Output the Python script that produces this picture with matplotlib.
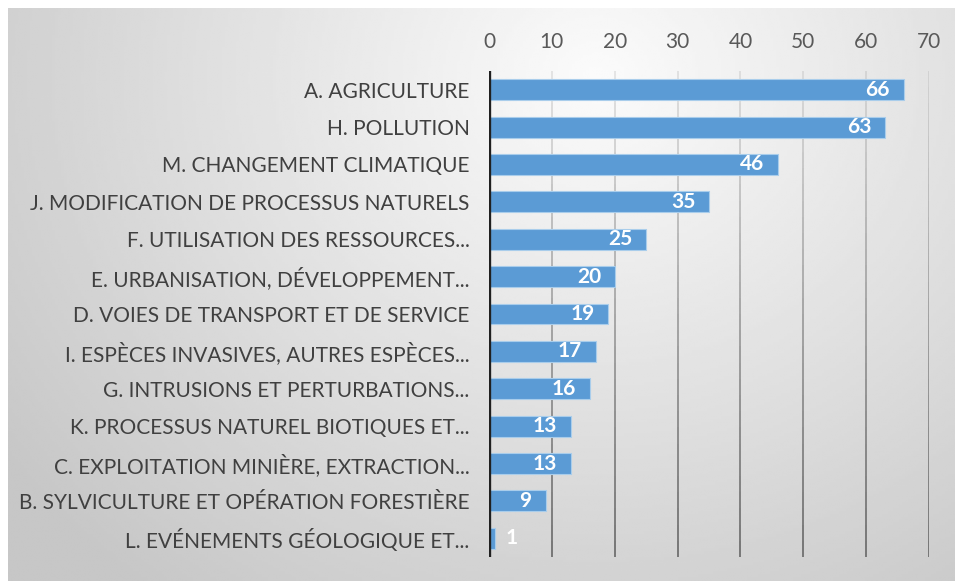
import numpy as np
import matplotlib
matplotlib.use("Agg")
import matplotlib.pyplot as plt

# data
categories = [
    "A. AGRICULTURE",
    "H. POLLUTION",
    "M. CHANGEMENT CLIMATIQUE",
    "J. MODIFICATION DE PROCESSUS NATURELS",
    "F. UTILISATION DES RESSOURCES...",
    "E. URBANISATION, DÉVELOPPEMENT...",
    "D. VOIES DE TRANSPORT ET DE SERVICE",
    "I. ESPÈCES INVASIVES, AUTRES ESPÈCES...",
    "G. INTRUSIONS ET PERTURBATIONS...",
    "K. PROCESSUS NATUREL BIOTIQUES ET...",
    "C. EXPLOITATION MINIÈRE, EXTRACTION...",
    "B. SYLVICULTURE ET OPÉRATION FORESTIÈRE",
    "L. EVÉNEMENTS GÉOLOGIQUE ET...",
]
values = [66, 63, 46, 35, 25, 20, 19, 17, 16, 13, 13, 9, 1]
xticks = [0, 10, 20, 30, 40, 50, 60, 70]

plt.rcParams['font.family'] = ['Lato', 'DejaVu Sans']

W, H = 957, 583
fig = plt.figure(figsize=(W / 100, H / 100), dpi=100)
fig.patch.set_facecolor('white')

# background gradient panel
bg = fig.add_axes([8 / W, 2 / H, 947 / W, 573 / H])
bg.set_axis_off()
yy, xx = np.mgrid[0:200, 0:330]
xx = xx / 330.0
yy = yy / 200.0
d = np.sqrt(((xx - 0.62) / 0.75) ** 2 + ((yy - 0.12) / 1.1) ** 2)
shade = np.clip(0.985 - 0.2 * d, 0.78, 0.985)
bg.imshow(shade, cmap='gray', vmin=0, vmax=1, aspect='auto',
          extent=[0, 1, 1, 0], interpolation='bilinear')
bg.set_xlim(0, 1)
bg.set_ylim(1, 0)

ax = fig.add_axes([489 / W, 1 - 557 / H, 440 / W, (557 - 71) / H])
ax.patch.set_alpha(0)

pos = np.arange(len(categories))

# gridlines fading toward the top
for t in xticks[1:]:
    n = 30
    edges = np.linspace(-0.5, len(categories) - 0.5, n + 1)
    for i in range(n):
        a = 0.15 + 0.75 * i / n
        ax.plot([t, t], [edges[i], edges[i + 1]], color='#6a6a6a',
                lw=1.4, alpha=a, solid_capstyle='butt', zorder=1)

ax.barh(pos, values, height=0.56, color='#5B9BD5',
        edgecolor='#A9CDEB', linewidth=0.8, zorder=2)

for p, v in zip(pos, values):
    if v >= 5:
        ax.text(v - 2.2, p, str(v), ha='right', va='center',
                color='white', fontsize=15, fontweight='bold', zorder=3)
    else:
        ax.text(v + 1.6, p, str(v), ha='left', va='center',
                color='white', fontsize=15, fontweight='bold', zorder=3)

ax.axvline(0, color='#202020', lw=2.4, zorder=4)

ax.set_xlim(0, 70)
ax.set_ylim(len(categories) - 0.5, -0.5)
ax.set_xticks(xticks)
ax.xaxis.tick_top()
ax.tick_params(axis='x', length=0, pad=14, labelsize=15, labelcolor='#595959')
ax.set_yticks(pos)
ax.set_yticklabels(categories)
ax.tick_params(axis='y', length=0, pad=14, labelsize=15, labelcolor='#404040')
for s in ax.spines.values():
    s.set_visible(False)

fig.savefig('out.png', dpi=100)
